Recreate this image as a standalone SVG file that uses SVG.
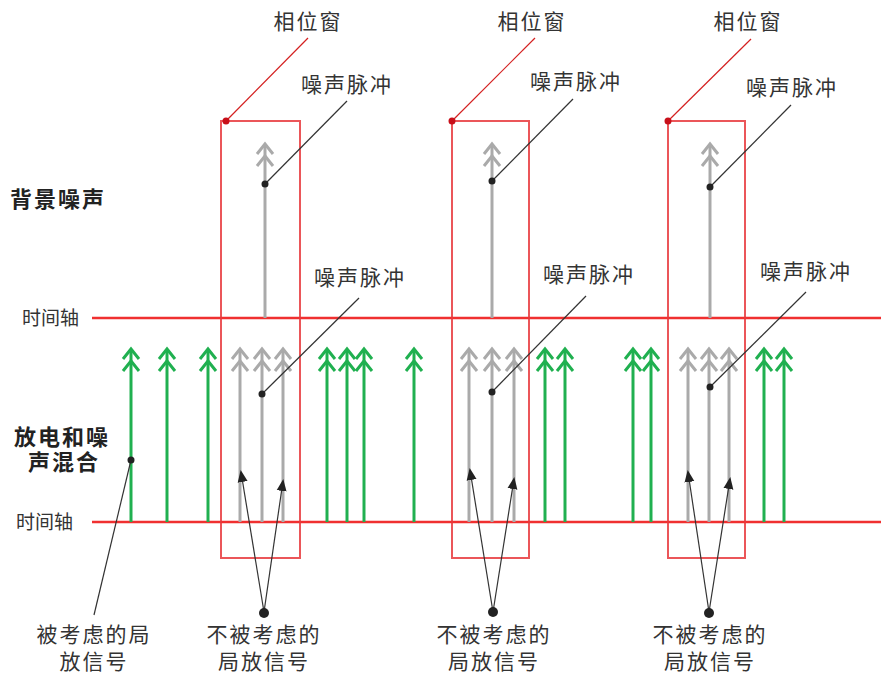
<svg xmlns="http://www.w3.org/2000/svg" width="881" height="676" viewBox="0 0 881 676">
  <style>
    .t { font-family: "Noto Sans CJK SC", "Liberation Sans", sans-serif; font-size: 21px; letter-spacing: 2px; fill: #333; }
    .b { font-family: "Noto Sans CJK SC", "Liberation Sans", sans-serif; font-size: 22px; letter-spacing: 2px; font-weight: bold; fill: #222; }
    .ax { font-family: "Noto Sans CJK SC", "Liberation Sans", sans-serif; font-size: 19px; fill: #333; }
    .axis { stroke: #f03030; stroke-width: 2.5; }
    .win { fill: none; stroke: #e8383c; stroke-width: 2; stroke-opacity: 0.85; }
    .red { stroke: #d42020; stroke-width: 1.2; }
    .lead { stroke: #333; stroke-width: 1.2; }
    .g { stroke: #20b050; stroke-width: 3; fill: none; }
    .n { stroke: #aaaaaa; stroke-width: 3; fill: none; }
  </style>
  <defs>
    <!-- double chevron head, tip at origin -->
    <path id="chev" d="M-8,10 L0,0 L8,10 M-8,22 L0,12 L8,22"/>
    <marker id="tri" markerWidth="12" markerHeight="12" refX="10" refY="5" orient="auto" markerUnits="userSpaceOnUse" viewBox="0 0 12 10">
      <path d="M0,0 L12,5 L0,10 Z" fill="#222"/>
    </marker>
  </defs>

  <!-- time axes -->
  <g id="axes">
    <line class="axis" x1="92" y1="318" x2="881" y2="318"/>
    <line class="axis" x1="92" y1="522" x2="881" y2="522"/>
  </g>

  <!-- side labels -->
  <g id="labels-left">
    <text class="b" x="10" y="207">背景噪声</text>
    <text class="ax" x="22" y="325">时间轴</text>
    <text class="b" x="14" y="445">放电和噪</text>
    <text class="b" x="28" y="470">声混合</text>
    <text class="ax" x="16" y="529">时间轴</text>
  </g>

  <!-- discharge pulses (green) -->
  <g id="discharge">
    <g class="g">
      <line x1="131" y1="522" x2="131" y2="349"/><use href="#chev" x="131" y="349"/>
      <line x1="167" y1="522" x2="167" y2="349"/><use href="#chev" x="167" y="349"/>
      <line x1="208" y1="522" x2="208" y2="349"/><use href="#chev" x="208" y="349"/>
      <line x1="327" y1="522" x2="327" y2="349"/><use href="#chev" x="327" y="349"/>
      <line x1="347" y1="522" x2="347" y2="349"/><use href="#chev" x="347" y="349"/>
      <line x1="364" y1="522" x2="364" y2="349"/><use href="#chev" x="364" y="349"/>
      <line x1="414" y1="522" x2="414" y2="349"/><use href="#chev" x="414" y="349"/>
      <line x1="545" y1="522" x2="545" y2="349"/><use href="#chev" x="545" y="349"/>
      <line x1="565" y1="522" x2="565" y2="349"/><use href="#chev" x="565" y="349"/>
      <line x1="633" y1="522" x2="633" y2="349"/><use href="#chev" x="633" y="349"/>
      <line x1="651" y1="522" x2="651" y2="349"/><use href="#chev" x="651" y="349"/>
      <line x1="764" y1="522" x2="764" y2="349"/><use href="#chev" x="764" y="349"/>
      <line x1="784" y1="522" x2="784" y2="349"/><use href="#chev" x="784" y="349"/>
    </g>
  </g>

  <!-- noise pulses (grey) -->
  <g id="noise">
    <g class="n">
      <line x1="265" y1="318" x2="265" y2="144"/><use href="#chev" x="265" y="144"/>
      <line x1="492" y1="318" x2="492" y2="144"/><use href="#chev" x="492" y="144"/>
      <line x1="710" y1="318" x2="710" y2="144"/><use href="#chev" x="710" y="144"/>

      <line x1="240" y1="522" x2="240" y2="349"/><use href="#chev" x="240" y="349"/>
      <line x1="262" y1="522" x2="262" y2="349"/><use href="#chev" x="262" y="349"/>
      <line x1="283" y1="522" x2="283" y2="349"/><use href="#chev" x="283" y="349"/>
      <line x1="469" y1="522" x2="469" y2="349"/><use href="#chev" x="469" y="349"/>
      <line x1="492" y1="522" x2="492" y2="349"/><use href="#chev" x="492" y="349"/>
      <line x1="514" y1="522" x2="514" y2="349"/><use href="#chev" x="514" y="349"/>
      <line x1="688" y1="522" x2="688" y2="349"/><use href="#chev" x="688" y="349"/>
      <line x1="709" y1="522" x2="709" y2="349"/><use href="#chev" x="709" y="349"/>
      <line x1="729" y1="522" x2="729" y2="349"/><use href="#chev" x="729" y="349"/>
    </g>
  </g>

  <!-- phase windows -->
  <g id="window-1">
    <rect class="win" x="221" y="121" width="79" height="437"/>
  </g>
  <g id="window-2">
    <rect class="win" x="452" y="121" width="77" height="437"/>
  </g>
  <g id="window-3">
    <rect class="win" x="668" y="121" width="77" height="437"/>
  </g>

  <!-- callout leaders -->
  <g id="connectors">
    <line class="red" x1="226" y1="121" x2="308" y2="38"/>
    <line class="red" x1="452" y1="121" x2="535" y2="38"/>
    <line class="red" x1="668" y1="121" x2="751" y2="39"/>
    <circle cx="226" cy="121" r="3.5" fill="#c8101a"/>
    <circle cx="452" cy="121" r="3.5" fill="#c8101a"/>
    <circle cx="668" cy="121" r="3.5" fill="#c8101a"/>

    <line class="lead" x1="265" y1="184" x2="347" y2="101"/>
    <line class="lead" x1="492" y1="181" x2="573" y2="99"/>
    <line class="lead" x1="710" y1="187" x2="791" y2="105"/>
    <line class="lead" x1="262" y1="394" x2="359" y2="298"/>
    <line class="lead" x1="492" y1="392" x2="586" y2="296"/>
    <line class="lead" x1="710" y1="387" x2="806" y2="292"/>
    <circle cx="265" cy="184" r="3.5" fill="#222"/>
    <circle cx="492" cy="181" r="3.5" fill="#222"/>
    <circle cx="710" cy="187" r="3.5" fill="#222"/>
    <circle cx="262" cy="394" r="3.5" fill="#222"/>
    <circle cx="492" cy="392" r="3.5" fill="#222"/>
    <circle cx="710" cy="387" r="3.5" fill="#222"/>

    <line class="lead" x1="131" y1="460" x2="94" y2="615"/>
    <circle cx="131" cy="460" r="3.5" fill="#222"/>

    <line class="lead" x1="264" y1="612" x2="241" y2="472" marker-end="url(#tri)"/>
    <line class="lead" x1="264" y1="612" x2="283" y2="481" marker-end="url(#tri)"/>
    <line class="lead" x1="493" y1="612" x2="470" y2="470" marker-end="url(#tri)"/>
    <line class="lead" x1="493" y1="612" x2="514" y2="479" marker-end="url(#tri)"/>
    <line class="lead" x1="709" y1="612" x2="688" y2="472" marker-end="url(#tri)"/>
    <line class="lead" x1="709" y1="612" x2="730" y2="479" marker-end="url(#tri)"/>
    <circle cx="264" cy="613" r="5" fill="#222"/>
    <circle cx="493" cy="612" r="5" fill="#222"/>
    <circle cx="709" cy="613" r="5" fill="#222"/>
  </g>

  <!-- callout texts -->
  <g id="texts">
    <text class="t" x="308" y="29" text-anchor="middle">相位窗</text>
    <text class="t" x="532" y="29" text-anchor="middle">相位窗</text>
    <text class="t" x="748" y="29" text-anchor="middle">相位窗</text>

    <text class="t" x="347" y="92" text-anchor="middle">噪声脉冲</text>
    <text class="t" x="576" y="89" text-anchor="middle">噪声脉冲</text>
    <text class="t" x="792" y="95" text-anchor="middle">噪声脉冲</text>

    <text class="t" x="360" y="285" text-anchor="middle">噪声脉冲</text>
    <text class="t" x="589" y="282" text-anchor="middle">噪声脉冲</text>
    <text class="t" x="806" y="279" text-anchor="middle">噪声脉冲</text>

    <text class="t" x="94" y="642" text-anchor="middle">被考虑的局</text>
    <text class="t" x="94" y="669" text-anchor="middle">放信号</text>
    <text class="t" x="264" y="642" text-anchor="middle">不被考虑的</text>
    <text class="t" x="264" y="669" text-anchor="middle">局放信号</text>
    <text class="t" x="494" y="642" text-anchor="middle">不被考虑的</text>
    <text class="t" x="494" y="669" text-anchor="middle">局放信号</text>
    <text class="t" x="710" y="642" text-anchor="middle">不被考虑的</text>
    <text class="t" x="710" y="669" text-anchor="middle">局放信号</text>
  </g>
</svg>
